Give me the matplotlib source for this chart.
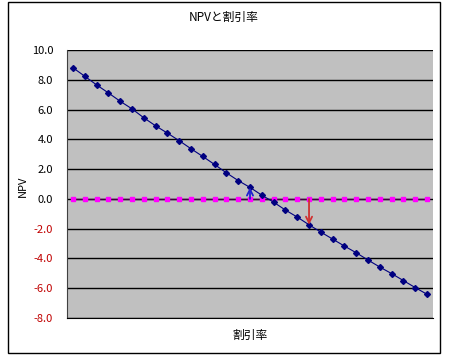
import matplotlib
matplotlib.use("Agg")
from matplotlib import pyplot as plt
from matplotlib.patches import Rectangle

plt.rcParams['font.family'] = ['Noto Sans CJK JP', 'DejaVu Sans']

# NPV at each discount-rate step (31 categories)
npv = [8.81, 8.24, 7.66, 7.12, 6.56, 6.05, 5.45, 4.91, 4.42, 3.91,
       3.37, 2.85, 2.31, 1.75, 1.23, 0.77, 0.25, -0.22, -0.75, -1.22,
       -1.74, -2.23, -2.70, -3.17, -3.62, -4.11, -4.58, -5.02, -5.49, -5.96,
       -6.41]
zero_line = [0.0] * len(npv)
y_ticks = [10.0, 8.0, 6.0, 4.0, 2.0, 0.0, -2.0, -4.0, -6.0, -8.0]
up_arrow_idx = 15
down_arrow_idx = 20

x = list(range(len(npv)))

fig = plt.figure(figsize=(4.5, 3.6), dpi=100)
ax = fig.add_axes([67 / 450, 1 - 318 / 360, 366 / 450, 268 / 360])
ax.set_facecolor('#c0c0c0')

# outer chart border
fig.patches.append(Rectangle((8 / 450, 1 - 353 / 360), 432 / 450, 351 / 360,
                             transform=fig.transFigure, fill=False,
                             edgecolor='black', linewidth=1))

for v in y_ticks:
    ax.axhline(v, color='black', linewidth=1, zorder=1)

ax.plot(x, zero_line, color='#400040', linewidth=1, marker='s', markersize=3.5,
        markerfacecolor='#ff00ff', markeredgecolor='#ff00ff', zorder=3)
ax.plot(x, npv, color='#000080', linewidth=0.8, marker='D', markersize=3,
        markerfacecolor='#000080', markeredgecolor='#000080', zorder=4)

ax.annotate('', xy=(up_arrow_idx, npv[up_arrow_idx]), xytext=(up_arrow_idx, 0),
            arrowprops=dict(arrowstyle='->', color='#2020d0', lw=1.3,
                            mutation_scale=11, shrinkA=0, shrinkB=0), zorder=5)
ax.annotate('', xy=(down_arrow_idx, npv[down_arrow_idx]), xytext=(down_arrow_idx, 0),
            arrowprops=dict(arrowstyle='->', color='#d03030', lw=1.3,
                            mutation_scale=11, shrinkA=0, shrinkB=0), zorder=5)

ax.set_xlim(-0.5, len(npv) - 0.5)
ax.set_ylim(-8.0, 10.0)
ax.set_xticks([])
ax.set_yticks(y_ticks)
ax.set_yticklabels(['%.1f' % v for v in y_ticks], fontsize=8)
for lab, v in zip(ax.get_yticklabels(), y_ticks):
    lab.set_color('#c00000' if v < 0 else 'black')
ax.tick_params(axis='y', length=0, pad=10)

for side in ['top', 'right']:
    ax.spines[side].set_visible(False)
ax.spines['left'].set_color('#404040')
ax.spines['bottom'].set_color('black')

fig.text(224 / 450, 1 - 17 / 360, 'NPVと割引率', ha='center', va='center', fontsize=8.5)
fig.text(23 / 450, 1 - 186 / 360, 'NPV', ha='center', va='center', rotation=90, fontsize=8)
fig.text(250 / 450, 1 - 335 / 360, '割引率', ha='center', va='center', fontsize=8.5)

fig.savefig('out.png', dpi=100)
